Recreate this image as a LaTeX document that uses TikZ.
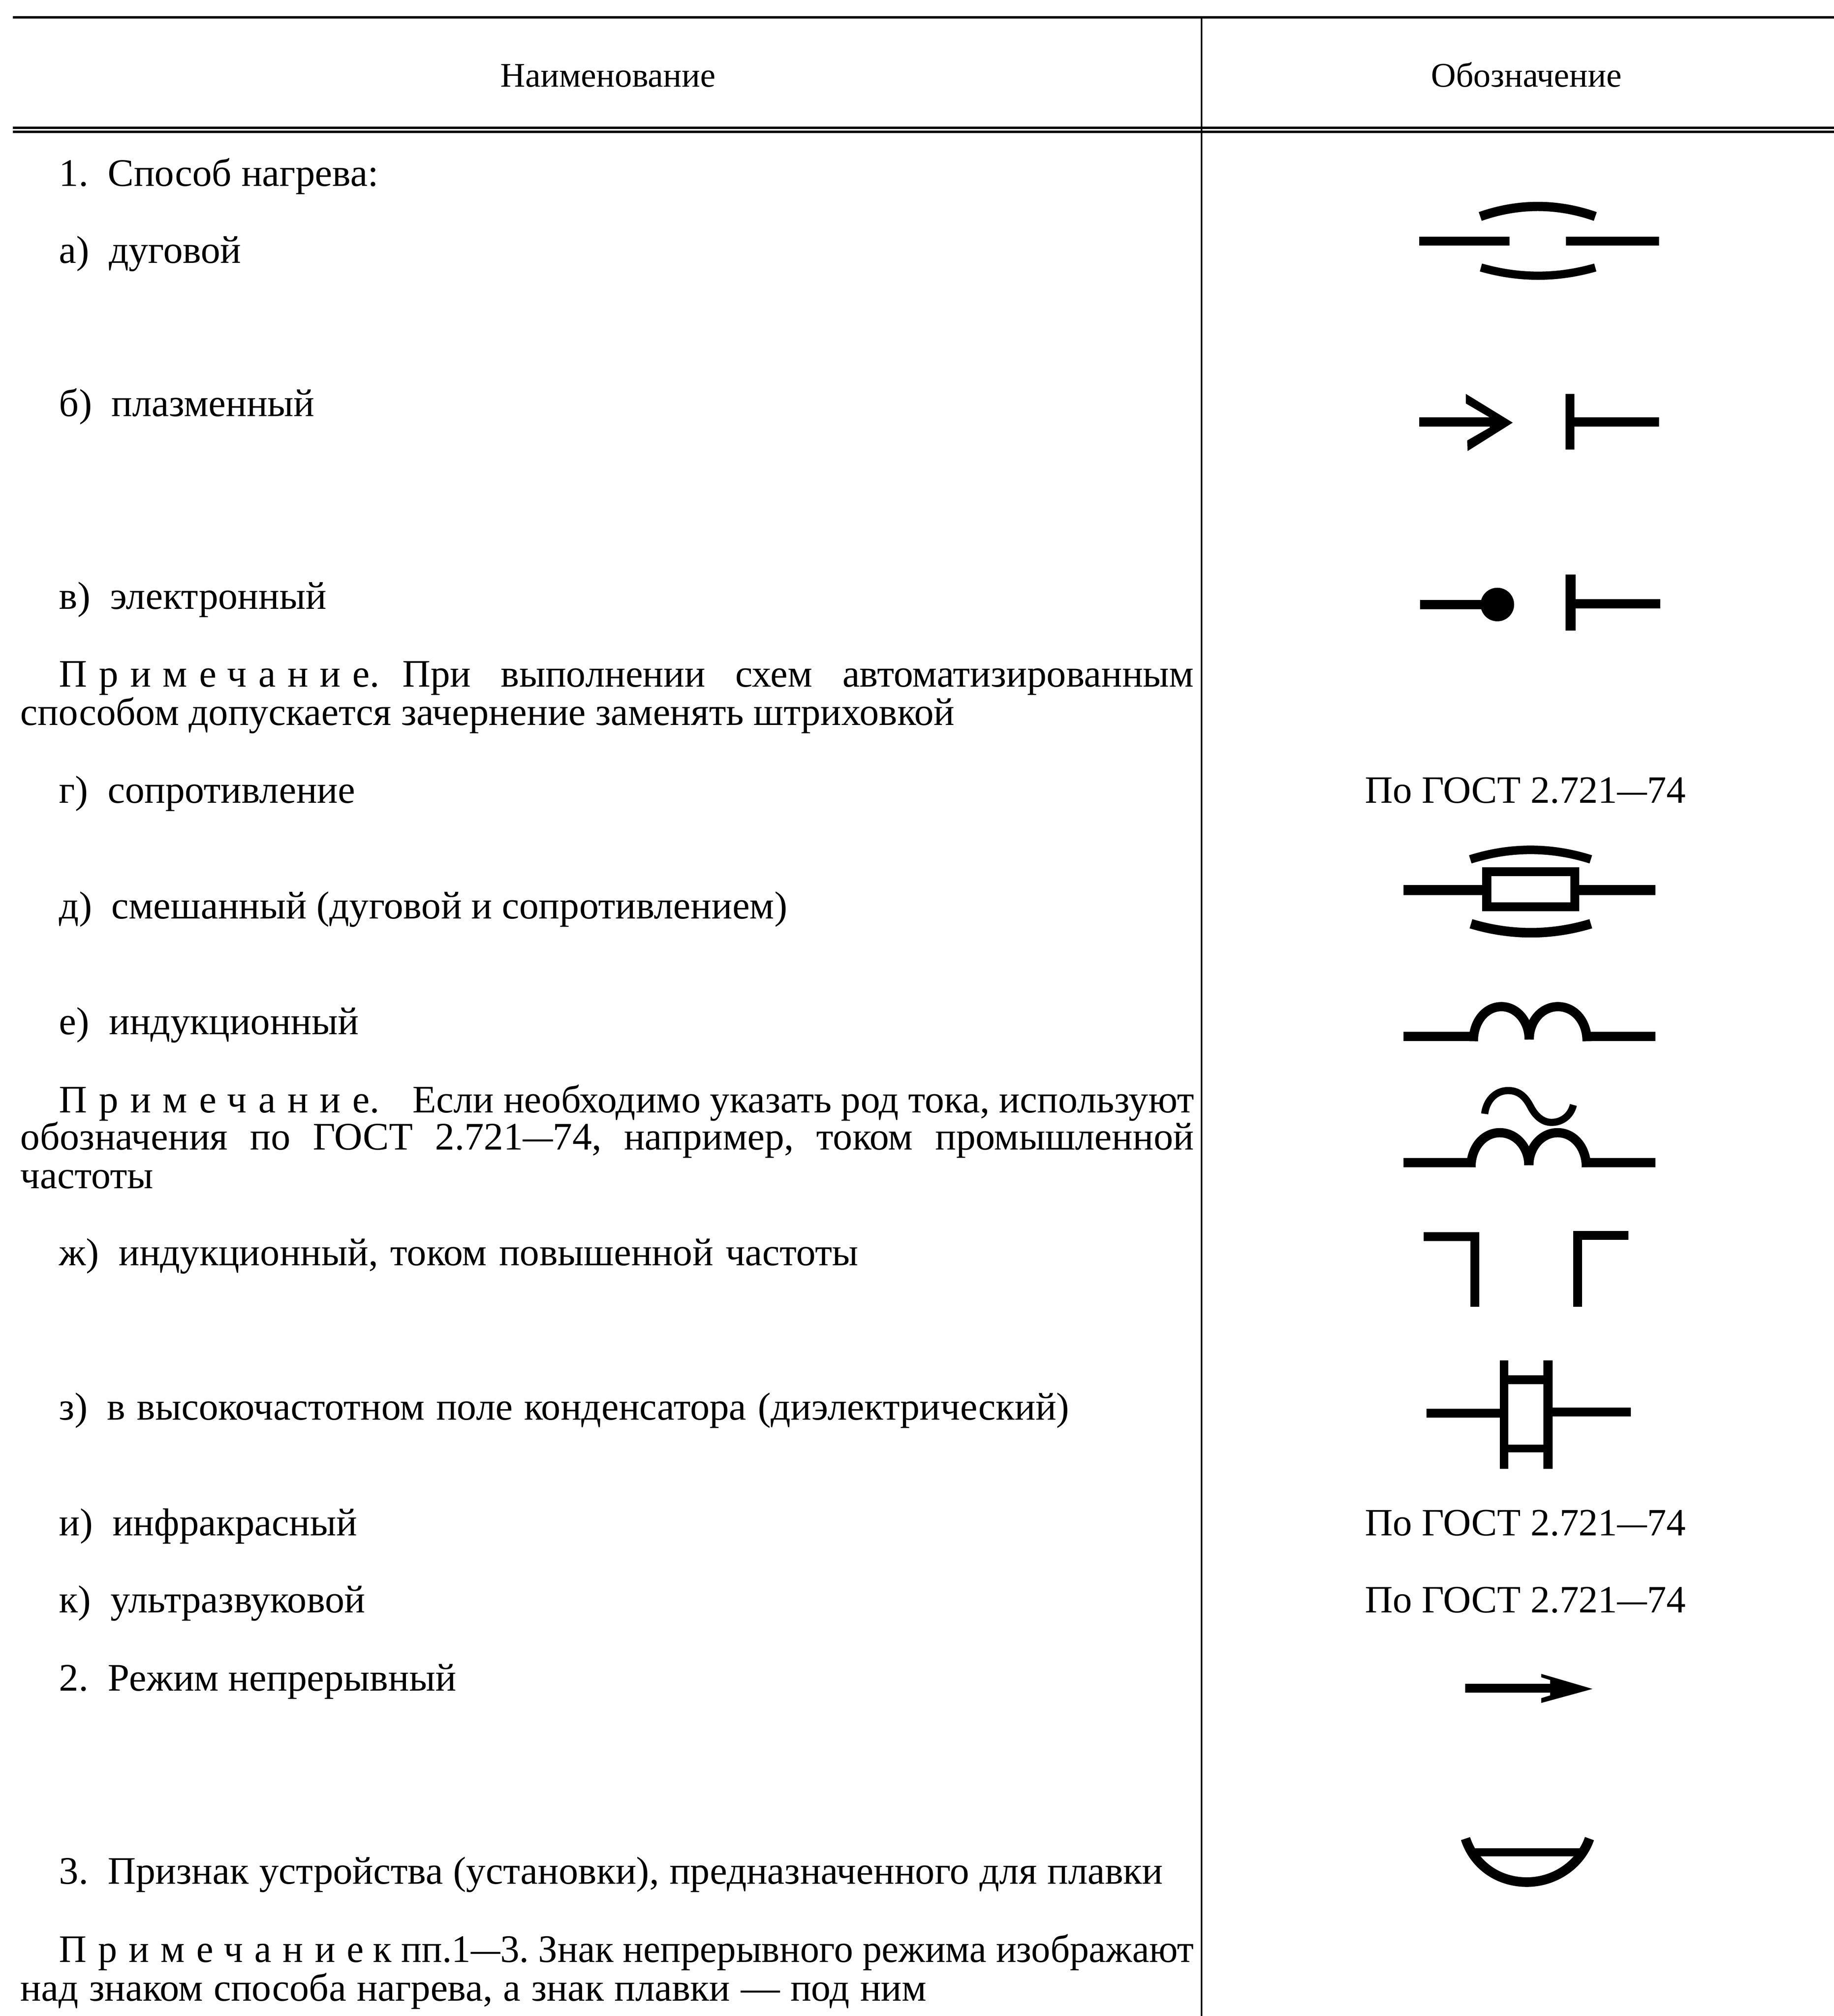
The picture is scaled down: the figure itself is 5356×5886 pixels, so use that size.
\documentclass[tikz,border=0pt]{standalone}
\usepackage{graphicx}
\usepackage{fontspec}
\setmainfont{Liberation Serif}
\frenchspacing
\newcommand{\spcd}[1]{{\addfontfeature{LetterSpace=30}#1}}
\newcommand{\dsh}{\scalebox{0.77}[1]{—}}
\newcommand{\jW}[2]{\makebox[#1][s]{#2}}
\newcommand{\jA}[1]{\makebox[828.5pt][s]{#1}}
\newcommand{\jB}[1]{\makebox[856.75pt][s]{#1}}
\tikzset{
  w/.style={line width=#1*0.25pt},
  rulethin/.style={line width=1pt, draw=black},
  rulethick/.style={line width=1.7pt, draw=black},
  sym/.style={draw=black, line cap=butt, line join=miter, w=27},
  symfill/.style={fill=black, draw=none},
  txt/.style={anchor=base west, inner sep=0pt, outer sep=0pt, font=\fontsize{28.45pt}{30pt}\selectfont, text=black},
  gost/.style={anchor=base, inner sep=0pt, outer sep=0pt, font=\fontsize{28.2pt}{30pt}\selectfont, text=black},
  ctr/.style={anchor=base, inner sep=0pt, outer sep=0pt, font=\fontsize{25.2pt}{30pt}\selectfont, text=black}
}
\begin{document}
\begin{tikzpicture}[x=0.25pt,y=-0.25pt]
\path[fill=white,use as bounding box] (0,0) rectangle (5356,5886);
% table rules
\draw[rulethick] (38,51) -- (5356,51);
\draw[rulethick] (38,373) -- (5356,373);
\draw[rulethick] (38,385) -- (5356,385);
\draw[rulethin] (3509,51) -- (3509,5886);
% header
\node[ctr] (h1) at (1776,254) {Наименование};
\node[ctr] (h2) at (4458,254) {Обозначение};
% left column
\node[txt] (t1)  at (173,543)  {1.\enspace Способ нагрева:};
\node[txt] (ta)  at (173,768)  {а)\enspace дуговой};
\node[txt] (tb)  at (173,1215) {б)\enspace плазменный};
\node[txt] (tv)  at (173,1778) {в)\enspace электронный};
\node[txt] (n1a) at (173,2005) {\jA{\spcd{Примечание}.\kern0.59em При выполнении схем автоматизированным}};
\node[txt] (n1b) at (60,2117)  {способом допускается зачернение заменять штриховкой};
\node[txt] (tg)  at (173,2344) {г)\enspace сопротивление};
\node[txt] (td)  at (173,2682) {д)\enspace смешанный (дуговой и сопротивлением)};
\node[txt] (te)  at (173,3020) {е)\enspace индукционный};
\node[txt] (n2a) at (173,3249) {\jA{\spcd{Примечание}.\kern0.85em Если необходимо указать род тока, используют}};
\node[txt] (n2b) at (60,3357)  {\jB{обозначения по ГОСТ 2.721\dsh74, например, током промышленной}};
\node[txt] (n2c) at (60,3470)  {частоты};
\node[txt] (tzh) at (173,3695) {\jW{583.6pt}{ж)\enspace индукционный, током повышенной частоты}};
\node[txt] (tz)  at (173,4146) {\jW{737.5pt}{з)\enspace в высокочастотном поле конденсатора (диэлектрический)}};
\node[txt] (ti)  at (173,4483) {и)\enspace инфракрасный};
\node[txt] (tk)  at (173,4708) {к)\enspace ультразвуковой};
\node[txt] (t2)  at (173,4937) {2.\enspace Режим непрерывный};
\node[txt] (t3)  at (173,5500) {\jW{806pt}{3.\enspace Признак устройства (установки), предназначенного для плавки}};
\node[txt] (n3a) at (173,5729) {\resizebox{828.5pt}{\height}{\spcd{Примечание} к пп.1\dsh3. Знак непрерывного режима изображают}};
\node[txt] (n3b) at (60,5842) {\jW{661.5pt}{над знаком способа нагрева, а знак плавки — под ним}};
% right column texts
\node[gost] (g1) at (4455,2344) {По ГОСТ 2.721\dsh74};
\node[gost] (g2) at (4455,4483) {По ГОСТ 2.721\dsh74};
\node[gost] (g3) at (4455,4708) {По ГОСТ 2.721\dsh74};
% а) arc
\draw[sym] (4145,704) -- (4409,704);
\draw[sym] (4573,704) -- (4845,704);
\draw[sym] (4323,632) .. controls (4435,593) and (4547,593) .. (4659,632);
\draw[sym,w=24] (4325,781) .. controls (4437,813) and (4547,813) .. (4659,781);
% б) plasma
\draw[sym] (4145,1232) -- (4365,1232);
\path[symfill] (4281,1150) -- (4418,1234) -- (4286,1317) -- (4285,1286) -- (4351,1248) -- (4351,1219) -- (4281,1178) -- cycle;
\draw[sym,w=25] (4585,1150) -- (4585,1312);
\draw[sym] (4585,1232) -- (4845,1232);
% в) electron
\draw[sym] (4147,1765) -- (4340,1765);
\path[symfill] (4373,1765) circle [radius=49];
\draw[sym,w=29] (4587,1677) -- (4587,1841);
\draw[sym] (4587,1763) -- (4849,1763);
% д) mixed
\draw[sym,w=29] (4099,2599) -- (4329,2599);
\draw[sym,w=29] (4612,2599) -- (4835,2599);
\draw[sym,w=26] (4342,2545) rectangle (4599,2648);
\draw[sym,w=25] (4294,2509) .. controls (4411,2472) and (4529,2472) .. (4646,2509);
\draw[sym,w=28] (4296,2697) .. controls (4412,2732) and (4530,2732) .. (4646,2697);
% е) induction
\draw[sym] (4099,3026) -- (4303,3026);
\draw[sym] (4627,3026) -- (4835,3026);
\draw[sym] (4303,3040) .. controls (4303,2982) and (4339,2939) .. (4385,2939) .. controls (4430,2939) and (4466,2982) .. (4466,3035);
\draw[sym] (4466,3035) .. controls (4466,2982) and (4502,2939) .. (4550,2939) .. controls (4598,2939) and (4635,2982) .. (4635,3040);
% induction with tilde
\draw[sym] (4099,3394) -- (4296,3394);
\draw[sym] (4633,3394) -- (4835,3394);
\draw[sym] (4296,3408) .. controls (4296,3350) and (4333,3307) .. (4380,3307) .. controls (4428,3307) and (4465,3350) .. (4465,3402);
\draw[sym] (4465,3402) .. controls (4465,3350) and (4502,3307) .. (4549,3307) .. controls (4596,3307) and (4633,3350) .. (4633,3408);
\draw[sym,w=21] (4336,3252) .. controls (4341,3212) and (4368,3184) .. (4405,3184) .. controls (4440,3184) and (4458,3208) .. (4470,3231) .. controls (4484,3258) and (4505,3277) .. (4531,3277) .. controls (4563,3277) and (4588,3256) .. (4595,3226);
% ж)
\draw[sym,w=26] (4158,3610) -- (4307,3610) -- (4307,3815);
\draw[sym,w=26] (4756,3607) -- (4607,3607) -- (4607,3815);
% з)
\draw[sym,w=25] (4393,3972) -- (4393,4289);
\draw[sym,w=26] (4521,3972) -- (4521,4289);
\draw[sym,w=26] (4393,4028) -- (4521,4028);
\draw[sym,w=23] (4393,4229) -- (4521,4229);
\draw[sym,w=26] (4166,4126) -- (4393,4126);
\draw[sym,w=26] (4521,4123) -- (4763,4123);
% 2. arrow
\draw[sym,w=26] (4279,4929) -- (4535,4929);
\path[symfill] (4501,4887) -- (4651,4931) -- (4501,4972) -- (4501,4958) -- (4527,4950) -- (4527,4905) -- (4501,4897) -- cycle;
% 3. melting
\draw[sym,w=28] (4280,5368) .. controls (4305,5445) and (4375,5495) .. (4459,5495) .. controls (4540,5495) and (4615,5445) .. (4642,5368);
\draw[sym,w=24] (4309,5408) -- (4619,5408);
\end{tikzpicture}
\end{document}
